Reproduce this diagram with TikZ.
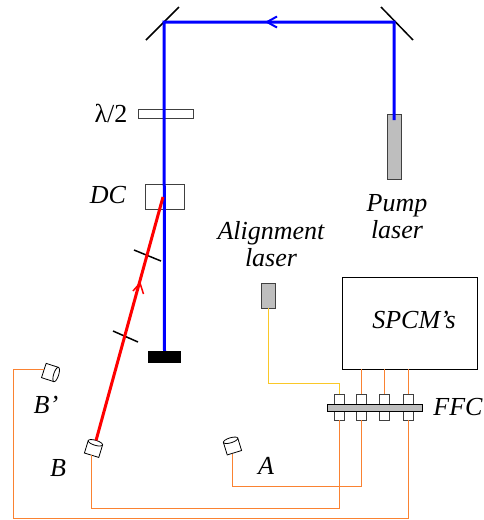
\documentclass[tikz,border=0pt]{standalone}
\usepackage{fontspec}
\setmainfont{Liberation Serif}
\usepackage{xcolor}
\usepackage{tikz}
\usetikzlibrary{calc, shapes.geometric}
\definecolor{fibreorange}{RGB}{250, 130, 50}
\definecolor{fibreyellow}{RGB}{250, 200, 40}
\definecolor{partgray}{RGB}{190, 190, 190}

\begin{document}
\begin{tikzpicture}[
  x=1pt, y=-1pt,
  font=\fontsize{26}{27}\selectfont,
  pumpbeam/.style={draw=blue, line width=3pt},
  redbeam/.style={draw=red, line width=3pt},
  mirrorline/.style={draw=black, line width=1.5pt},
  fibre/.style={draw=fibreorange, line width=1pt},
  box/.style={draw=black!75, line width=1pt, inner sep=0pt, outer sep=0pt},
  laserbox/.style={box, fill=partgray},
  portbox/.style={box, fill=white, minimum width=10pt, minimum height=26pt},
  detector/.style={rectangle, draw=black, line width=0.8pt, fill=white, inner sep=0pt, outer sep=0pt, minimum width=13pt, minimum height=15pt},
  detectorcap/.style={ellipse, draw=black, line width=0.8pt, fill=white, inner sep=0pt, outer sep=0pt, minimum width=5pt, minimum height=15pt},
  txt/.style={inner sep=0pt, align=center}
]
\useasboundingbox (0,0) rectangle (483,520);

\coordinate (mirrorL) at (164,22);
\coordinate (mirrorR) at (394,22);
\coordinate (redEnd) at (163,197);

\draw[mirrorline] (146,40) -- (179,7);
\draw[mirrorline] (381,7) -- (413,40);

\node[box, minimum width=55pt, minimum height=9pt] (plate) at (165.5,113.5) {};
\node[box, minimum width=39pt, minimum height=25pt] (dc) at (164.5,196.5) {};
\node[laserbox, minimum width=14pt, minimum height=65pt] (pump) at (394,146.5) {};
\node[laserbox, minimum width=14pt, minimum height=25pt] (align) at (268.5,295.5) {};
\node[box, draw=black, minimum width=135pt, minimum height=92pt] (spcm) at (409.5,323) {};
\node[fill=black, inner sep=0pt, minimum width=33pt, minimum height=12pt] (block) at (164.5,357) {};

\foreach \i/\px in {1/339.5, 2/361.5, 3/384.5, 4/408.5} {
  \node[portbox] (port\i) at (\px,407) {};
}
\node[laserbox, draw=black, minimum width=95pt, minimum height=7pt] (bar) at (374.5,407.5) {};

\node[detector, rotate=-18] (detBp) at (50,372.5) {};
\node[detectorcap, rotate=-18] (capBp) at (detBp.east) {};
\node[detector, rotate=73] (detB) at (93.5,449) {};
\node[detectorcap, rotate=73] (capB) at (detB.east) {};
\node[detector, rotate=107] (detA) at (232.5,446.5) {};
\node[detectorcap, rotate=107] (capA) at (detA.east) {};

\draw[pumpbeam] ($(pump.north)+(0,6)$) -- (mirrorR) -- (mirrorL) -- (block.north);
\draw[draw=blue, line width=2pt] (277,16.5) -- (267,22) -- (277,27.5);

\draw[mirrorline] (134,250) -- (161,261);
\draw[mirrorline] (113,331) -- (138,342);
\draw[redbeam] (capB) -- (redEnd);
\draw[draw=red, line width=1.5pt] (133,291) -- (140,283) -- (143.5,294);

\draw[fibreyellow, line width=1.2pt] (align.south) |- (port1.north |- 0,383.5) -- (port1.north);
\draw[fibre] (port2.north) -- (port2.north |- spcm.south);
\draw[fibre] (port3.north) -- (port3.north |- spcm.south);
\draw[fibre] (port4.north) -- (port4.north |- spcm.south);
\draw[fibre] (232.5,454) |- (port2.south |- 0,486.5) -- (port2.south);
\draw[fibre] (91.5,455) |- (port1.south |- 0,508.5) -- (port1.south);
\draw[fibre] (detBp.west |- 0,369.5) -| (13.5,518.5) -| (port4.south);

\node[txt] (lambda) at (111,113) {λ/2};
\node[txt] (dclabel) at (108,195) {\itshape DC};
\node[txt] (pumplabel) at (397,217) {\itshape Pump\\\itshape laser};
\node[txt] (alignlabel) at (271,244) {\itshape Alignment\\\itshape laser};
\node[txt] (spcmlabel) at (414,320) {\itshape SPCM’s};
\node[txt] (ffclabel) at (458,407) {\itshape FFC};
\node[txt] (bplabel) at (46,405) {\itshape B’};
\node[txt] (blabel) at (58,468) {\itshape B};
\node[txt] (alabel) at (266,466) {\itshape A};
\end{tikzpicture}
\end{document}
